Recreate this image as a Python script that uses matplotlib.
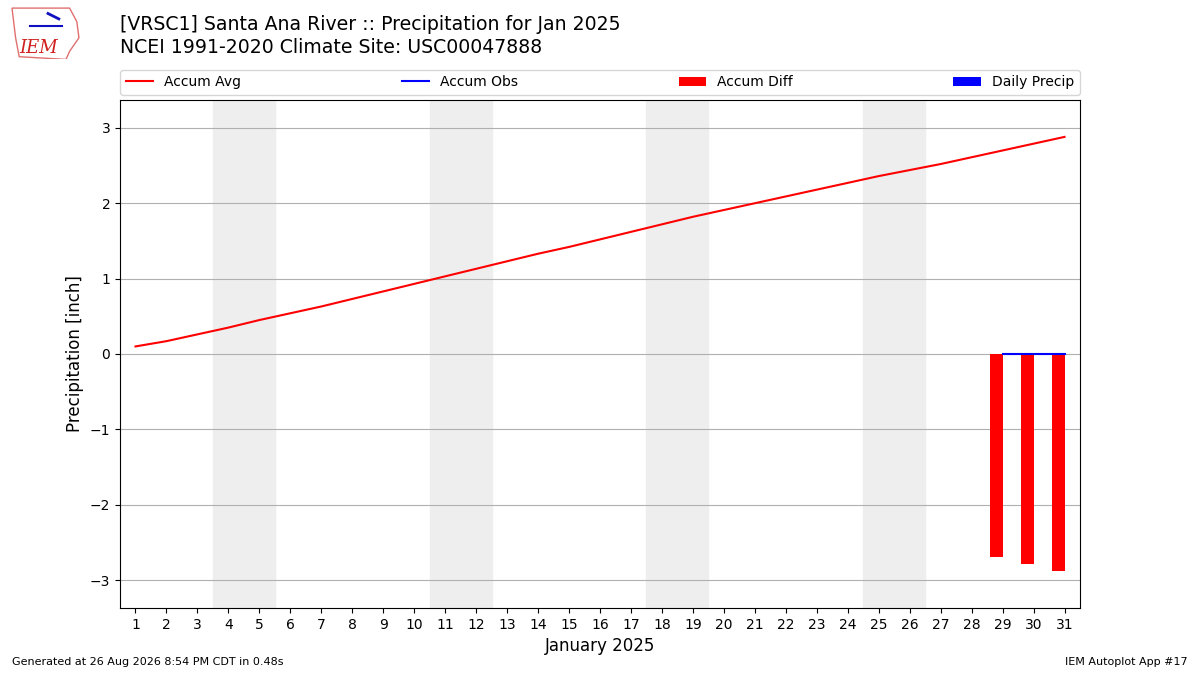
import matplotlib.pyplot as plt
from matplotlib.patches import Polygon

days = list(range(1, 32))
accum_avg = [0.10, 0.17, 0.26, 0.35, 0.45, 0.54, 0.63, 0.73, 0.83, 0.93,
             1.03, 1.13, 1.23, 1.33, 1.42, 1.52, 1.62, 1.72, 1.82, 1.91,
             2.00, 2.09, 2.18, 2.27, 2.36, 2.44, 2.52, 2.61, 2.70, 2.79, 2.88]
obs_days = [29, 30, 31]
accum_obs = [0.0, 0.0, 0.0]
accum_diff = [-2.70, -2.79, -2.88]
daily_precip = [0.0, 0.0, 0.0]
weekends = [(4, 5), (11, 12), (18, 19), (25, 26)]

fig = plt.figure(figsize=(12, 6.75), dpi=100)
ax = fig.add_axes([0.1, 0.0993, 0.8, 0.7526])

for start, end in weekends:
    ax.axvspan(start - 0.5, end + 0.5, color="#eeeeee", zorder=0)

ax.plot(days, accum_avg, color="r", lw=1.5, label="Accum Avg", zorder=3)
ax.plot(obs_days, accum_obs, color="b", lw=1.5, label="Accum Obs", zorder=3)
ax.bar(obs_days, accum_diff, width=-0.4, align="edge", color="r",
       label="Accum Diff", zorder=2)
ax.bar(obs_days, daily_precip, width=0.4, align="edge", color="b",
       label="Daily Precip", zorder=2)

ax.set_xlim(0.5, 31.5)
ax.set_ylim(-3.37, 3.37)
ax.set_xticks(days)
ax.set_yticks([-3, -2, -1, 0, 1, 2, 3])
ax.grid(axis="y", color="#b0b0b0", lw=0.8)
ax.set_axisbelow(True)
ax.set_ylabel("Precipitation [inch]", fontsize=12)
ax.set_xlabel("January 2025", fontsize=12)

ax.legend(loc="lower left", bbox_to_anchor=(0, 1.01, 1, 0.05), ncol=4,
          mode="expand", borderaxespad=0, fontsize=10)

fig.text(0.1, 0.963, "[VRSC1] Santa Ana River :: Precipitation for Jan 2025",
         fontsize=13.6, va="center")
fig.text(0.1, 0.929, "NCEI 1991-2020 Climate Site: USC00047888",
         fontsize=13.6, va="center")

# rough IEM logo
logo = fig.add_axes([0.007, 0.912, 0.06, 0.08])
logo.axis("off")
logo.set_xlim(0, 1)
logo.set_ylim(0, 1)
logo.add_patch(Polygon([(0.05, 0.95), (0.85, 0.95), (0.95, 0.7), (0.98, 0.4),
                        (0.85, 0.15), (0.8, 0.0), (0.15, 0.05), (0.1, 0.4)],
                       closed=True, fill=False, ec="#e07070", lw=1))
logo.plot([0.3, 0.75], [0.62, 0.62], color="#1010c0", lw=1.5)
logo.plot([0.55, 0.7], [0.85, 0.75], color="#1010c0", lw=2)
logo.text(0.42, 0.22, "IEM", color="#d02020", fontsize=13, family="serif",
          style="italic", ha="center", va="center")

fig.text(0.01, 0.015, "Generated at 26 Aug 2026 8:54 PM CDT in 0.48s",
         fontsize=8)
fig.text(0.99, 0.015, "IEM Autoplot App #17", fontsize=8, ha="right")

fig.savefig("out.png")
